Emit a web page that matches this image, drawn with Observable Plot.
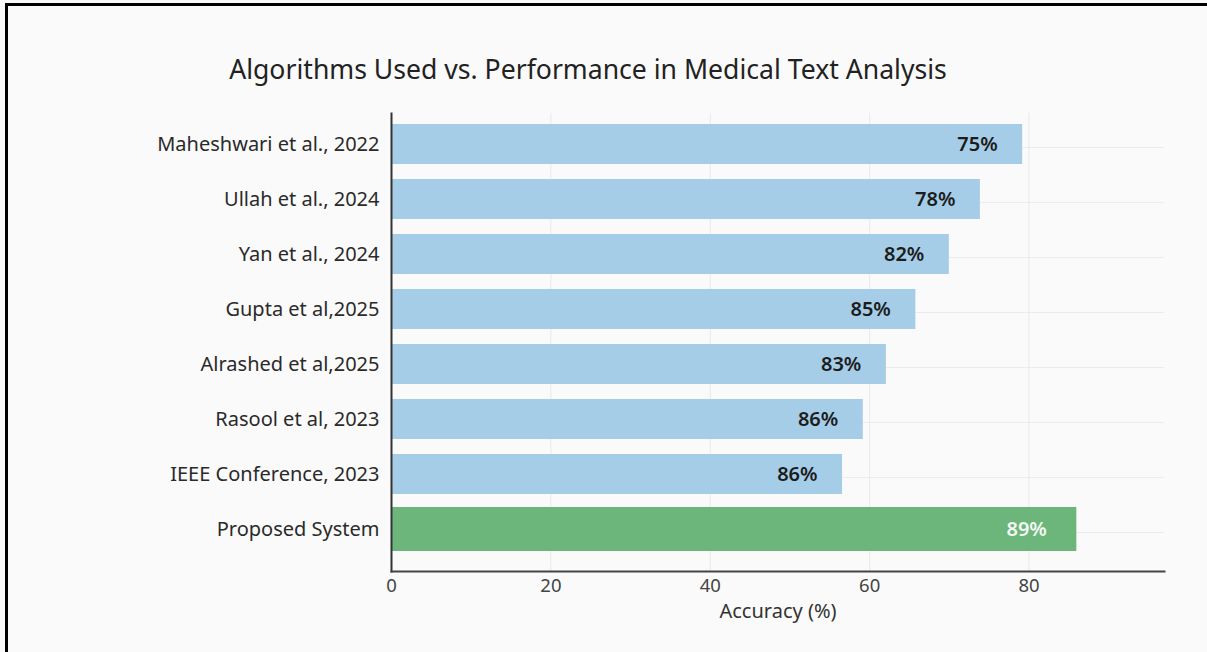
<!DOCTYPE html>
<html>
<head>
<meta charset="utf-8">
<script src="https://cdn.jsdelivr.net/npm/d3@7"></script>
<script src="https://cdn.jsdelivr.net/npm/@observablehq/plot@0.6"></script>
<style>
  html, body { margin: 0; padding: 0; background: #fafafa; overflow: hidden; }
  #page { position: relative; width: 1207px; height: 652px; overflow: hidden; background: #fafafa; }
  #borderTop { position: absolute; left: 5px; top: 3px; width: 1202px; height: 3px; background: #000; }
  #borderLeft { position: absolute; left: 5px; top: 3px; width: 3px; height: 649px; background: #000; }
  #title { position: absolute; top: 51px; left: 588px; transform: translateX(-50%); white-space: nowrap;
           font-family: "Noto Sans", sans-serif; font-size: 26.6px; color: #222; }
  #chart { position: absolute; left: 0; top: 100px; }
</style>
</head>
<body>
<div id="page">
  <div id="borderTop"></div>
  <div id="borderLeft"></div>
  <div id="title">Algorithms Used vs. Performance in Medical Text Analysis</div>
  <div id="chart"></div>
</div>
<script>
const categories = ["Maheshwari et al., 2022", "Ullah et al., 2024", "Yan et al., 2024", "Gupta et al,2025",
                    "Alrashed et al,2025", "Rasool et al, 2023", "IEEE Conference, 2023", "Proposed System"];
const barLengths = [79.2, 73.9, 70.0, 65.8, 62.1, 59.2, 56.6, 86.0];
const accuracyLabels = ["75%", "78%", "82%", "85%", "83%", "86%", "86%", "89%"];
const xTicks = [0, 20, 40, 60, 80];
const gridTicks = [20, 40, 60, 80];
const highlight = "Proposed System";

const rows = categories.map((c, i) => ({name: c, value: barLengths[i], label: accuracyLabels[i]}));
const others = rows.filter(d => d.name !== highlight);
const proposed = rows.filter(d => d.name === highlight);

const chart = Plot.plot({
  width: 1207,
  height: 552,
  marginLeft: 391,
  marginRight: 43,
  marginTop: 13,
  marginBottom: 81,
  style: {fontFamily: "Noto Sans, sans-serif", background: "transparent", color: "#333"},
  x: {domain: [0, 97], ticks: xTicks, label: "Accuracy (%)", labelAnchor: "center"},
  y: {domain: categories, range: [13, 460.7], paddingInner: 0.278, paddingOuter: 0.18, label: null},
  marks: [
    Plot.ruleX(gridTicks, {stroke: "#e9e9e9", strokeWidth: 1}),
    Plot.ruleY(categories, {y: d => d, dy: 3, stroke: "#ececec", strokeWidth: 1}),
    Plot.barX(others, {x: "value", y: "name", fill: "#a5cde8"}),
    Plot.barX(proposed, {x: "value", y: "name", fill: "#6cb67c", insetTop: -2, insetBottom: -2}),
    Plot.text(others, {x: "value", y: "name", text: "label", textAnchor: "end", dx: -25,
      fill: "#1c1c1c", fontWeight: 600, fontSize: 20}),
    Plot.text(proposed, {x: "value", y: "name", text: "label", textAnchor: "end", dx: -30,
      fill: "#f4f8f4", fontWeight: 600, fontSize: 20}),
    Plot.axisY({tickSize: 0, tickPadding: 12, fontSize: 20, fill: "#2a2a2a", label: null}),
    Plot.axisX({ticks: xTicks, tickSize: 0, tickPadding: 7, fontSize: 18.5, fill: "#444", label: null}),
    Plot.axisX({ticks: [], tickSize: 0, fontSize: 20, fill: "#333",
      label: "Accuracy (%)", labelAnchor: "center", labelOffset: 46, labelArrow: "none"}),
    Plot.frame({anchor: "left", stroke: "#333", strokeWidth: 2}),
    Plot.frame({anchor: "bottom", stroke: "#444", strokeWidth: 2})
  ]
});
document.getElementById("chart").appendChild(chart);
</script>
</body>
</html>
